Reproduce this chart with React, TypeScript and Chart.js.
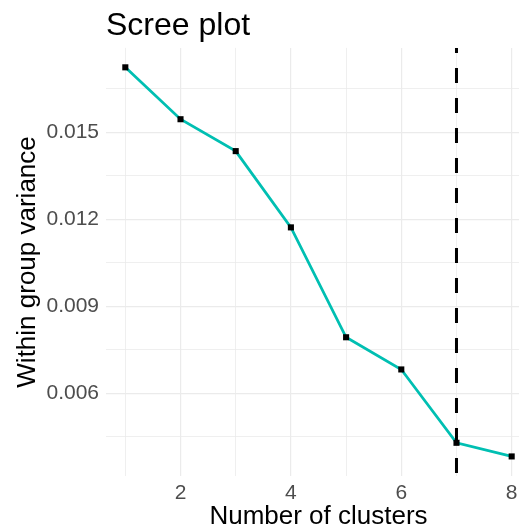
import React, { useEffect, useRef } from "react";
import { Chart, registerables } from "chart.js";

Chart.register(...registerables);

// ---- data ----
const clusters = [1, 2, 3, 4, 5, 6, 7, 8];
const variance = [0.01724, 0.01545, 0.01435, 0.01172, 0.00793, 0.00682, 0.00429, 0.00382];
const chosenK = 7;
const xTicks = [1, 2, 3, 4, 5, 6, 7, 8];
const xLabeled = [2, 4, 6, 8];
const yMajor = [0.006, 0.009, 0.012, 0.015];
const yMinor = [0.0045, 0.0075, 0.0105, 0.0135, 0.0165];
const yMin = 0.003145;
const yMax = 0.01791;
const xMin = 0.65;
const xMax = 8.35;

const FONT = "'Liberation Sans', Arial, Helvetica, sans-serif";
const TEAL = "#00BFB2";
const GRID = "#EBEBEB";

// the reference panel runs past the right edge of the 519px picture
const CANVAS_W = 531;
const CANVAS_H = 531;

export default function App() {
  const ref = useRef<HTMLCanvasElement | null>(null);

  useEffect(() => {
    if (!ref.current) return;
    Chart.defaults.font.family = FONT;
    const chart = new Chart(ref.current, {
      type: "line",
      data: {
        datasets: [
          {
            data: [
              { x: chosenK, y: yMax },
              { x: chosenK, y: yMin },
            ],
            borderColor: "#000",
            borderWidth: 3,
            borderDash: [15, 15],
            borderDashOffset: 10,
            pointRadius: 0,
            fill: false,
            order: 0,
          },
          {
            data: clusters.map((x, i) => ({ x, y: variance[i] })),
            borderColor: TEAL,
            borderWidth: 2.8,
            tension: 0,
            pointStyle: "rect",
            pointRadius: 4.3,
            pointBackgroundColor: "#000",
            pointBorderWidth: 0,
            fill: false,
            order: 1,
          },
        ],
      },
      options: {
        responsive: false,
        animation: false,
        devicePixelRatio: 1,
        layout: { padding: 0, autoPadding: false },
        plugins: {
          legend: { display: false },
          tooltip: { enabled: false },
          title: {
            display: true,
            text: "Scree plot",
            align: "start",
            fullSize: false,
            color: "#000",
            font: { family: FONT, size: 32, weight: "normal" },
            padding: { top: 7, bottom: 2.5 },
          },
        },
        scales: {
          x: {
            type: "linear",
            min: xMin,
            max: xMax,
            afterBuildTicks: (s: any) => {
              s.ticks = xTicks.map((v) => ({ value: v }));
            },
            afterFit: (s: any) => {
              s.height = 55;
              s.paddingLeft = 0;
              s.paddingRight = 0;
            },
            ticks: {
              callback: (v: any) => (xLabeled.includes(v) ? String(v) : ""),
              color: "#4D4D4D",
              font: { family: FONT, size: 21 },
              padding: 4.5,
              maxRotation: 0,
              autoSkip: false,
            },
            grid: {
              color: GRID,
              lineWidth: (ctx: any) => (xLabeled.includes(ctx.tick?.value) ? 1.2 : 0.8),
              drawTicks: false,
            },
            border: { display: false },
            title: {
              display: true,
              text: "Number of clusters",
              color: "#000",
              font: { family: FONT, size: 26 },
              padding: { top: 0, bottom: -1 },
            },
          },
          y: {
            type: "linear",
            min: yMin,
            max: yMax,
            afterBuildTicks: (s: any) => {
              s.ticks = [...yMinor, ...yMajor].sort((a, b) => a - b).map((v) => ({ value: v }));
            },
            afterFit: (s: any) => {
              s.width = 106;
              s.paddingTop = 0;
              s.paddingBottom = 0;
            },
            ticks: {
              callback: (v: any) => (yMajor.includes(v) ? Number(v).toFixed(3) : ""),
              color: "#4D4D4D",
              font: { family: FONT, size: 21 },
              padding: 7,
              autoSkip: false,
            },
            grid: {
              color: GRID,
              lineWidth: (ctx: any) => (yMajor.includes(ctx.tick?.value) ? 1.2 : 0.8),
              drawTicks: false,
            },
            border: { display: false },
            title: {
              display: true,
              text: "Within group variance",
              color: "#000",
              font: { family: FONT, size: 26 },
              padding: { top: 12, bottom: 0 },
            },
          },
        },
      },
    } as any);
    return () => chart.destroy();
  }, []);

  return (
    <div
      style={{
        position: "absolute",
        left: 0,
        top: 0,
        width: 519,
        height: 531,
        overflow: "hidden",
        background: "#fff",
      }}
    >
      <canvas
        ref={ref}
        width={CANVAS_W}
        height={CANVAS_H}
        style={{ display: "block", width: CANVAS_W, height: CANVAS_H }}
      />
    </div>
  );
}
